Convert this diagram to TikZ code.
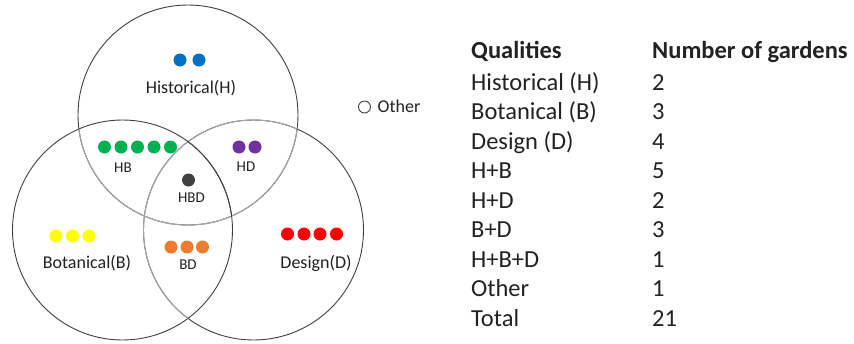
\documentclass[tikz,border=0pt]{standalone}
\usepackage{fontspec}
\setmainfont{Carlito}
\definecolor{cline}{HTML}{404040}
\definecolor{cfaint}{HTML}{A6A6A6}
\definecolor{ctext}{HTML}{222222}
\definecolor{cblue}{HTML}{0070C0}
\definecolor{cgreen}{HTML}{00B050}
\definecolor{cpurple}{HTML}{7030A0}
\definecolor{cblack}{HTML}{404040}
\definecolor{cyellow}{HTML}{FFFF00}
\definecolor{corange}{HTML}{ED7D31}
\definecolor{cred}{HTML}{FF0000}
\tikzset{
  dot/.style={circle, minimum size=13pt, inner sep=0pt, draw=none},
  bigcircle/.style={draw=cline, line width=0.9pt},
  faintcircle/.style={draw=cfaint, line width=0.9pt},
  biglabel/.style={anchor=base, inner sep=0pt, text=ctext, font=\fontsize{18pt}{20pt}\selectfont},
  smalllabel/.style={anchor=base, inner sep=0pt, text=ctext, font=\fontsize{15pt}{17pt}\selectfont},
  tabtext/.style={anchor=base west, inner sep=0pt, text=ctext, font=\fontsize{24.5pt}{27pt}\selectfont},
  tabhead/.style={tabtext, font=\fontsize{24.5pt}{27pt}\selectfont\bfseries},
}
\begin{document}
\begin{tikzpicture}[x=1pt, y=-1pt]
\useasboundingbox (0,0) rectangle (854,343);
% circles
\coordinate (cH) at (188,115);
\coordinate (cB) at (122.5,230);
\coordinate (cD) at (253.5,230);
\draw[bigcircle] (cH) circle (110);
\draw[bigcircle] (cD) circle (110);
\draw[bigcircle] (cB) circle (110);
% lighter arcs where H and D run inside other circles
\begin{scope}
  \clip (cD) circle (110);
  \draw[faintcircle] (cH) circle (110);
\end{scope}
\begin{scope}
  \clip (cB) circle (110);
  \draw[faintcircle] (cH) circle (110);
  \draw[faintcircle] (cD) circle (110);
\end{scope}
\begin{scope}
  \clip (cH) circle (110);
  \draw[faintcircle] (cD) circle (110);
\end{scope}
\begin{scope}
  \clip (cH) circle (111);
  \clip (cD) circle (111);
  \draw[bigcircle] (cB) circle (110);
\end{scope}
% Historical
\node[dot, fill=cblue] (h1) at (180,60) {};
\node[dot, fill=cblue] (h2) at (199,60) {};
\node[biglabel] (lh) at (191,93.5) {Historical(H)};
% Other
\node[circle, draw=cline, line width=0.9pt, minimum size=12pt, inner sep=0pt] (o1) at (364.5,107) {};
\node[anchor=base west, inner sep=0pt, text=ctext, font=\fontsize{18pt}{20pt}\selectfont] (lo) at (377.5,112.5) {Other};
% HB
\node[dot, fill=cgreen] (hb1) at (104.5,147) {};
\node[dot, fill=cgreen] (hb2) at (121,147) {};
\node[dot, fill=cgreen] (hb3) at (137.5,147) {};
\node[dot, fill=cgreen] (hb4) at (154,147) {};
\node[dot, fill=cgreen] (hb5) at (170.5,147) {};
\node[smalllabel] (lhb) at (123,172) {HB};
% HD
\node[dot, fill=cpurple] (hd1) at (239,147) {};
\node[dot, fill=cpurple] (hd2) at (255,147) {};
\node[smalllabel] (lhd) at (246,171.5) {HD};
% HBD
\node[dot, fill=cblack] (hbd1) at (188.5,180) {};
\node[smalllabel] (lhbd) at (191.5,202.5) {HBD};
% Botanical
\node[dot, fill=cyellow] (b1) at (56,236) {};
\node[dot, fill=cyellow] (b2) at (72.5,236) {};
\node[dot, fill=cyellow] (b3) at (89,236) {};
\node[biglabel] (lb) at (87,268.5) {Botanical(B)};
% BD
\node[dot, fill=corange] (bd1) at (171,247) {};
\node[dot, fill=corange] (bd2) at (187,247) {};
\node[dot, fill=corange] (bd3) at (202.5,247) {};
\node[smalllabel] (lbd) at (188,269) {BD};
% Design
\node[dot, fill=cred] (d1) at (287.5,234) {};
\node[dot, fill=cred] (d2) at (304,234) {};
\node[dot, fill=cred] (d3) at (320,234) {};
\node[dot, fill=cred] (d4) at (336.5,234) {};
\node[biglabel] (ld) at (316,268.5) {Design(D)};
% table
\node[tabhead] (t0a) at (471,58) {Qualities};
\node[tabhead] (t0b) at (652,58) {Number of gardens};
\node[tabtext] (t1a) at (471,90) {Historical (H)};
\node[tabtext] (t1b) at (652,90) {2};
\node[tabtext] (t2a) at (471,119.5) {Botanical (B)};
\node[tabtext] (t2b) at (652,119.5) {3};
\node[tabtext] (t3a) at (471,149) {Design (D)};
\node[tabtext] (t3b) at (652,149) {4};
\node[tabtext] (t4a) at (471,178.5) {H+B};
\node[tabtext] (t4b) at (652,178.5) {5};
\node[tabtext] (t5a) at (471,208) {H+D};
\node[tabtext] (t5b) at (652,208) {2};
\node[tabtext] (t6a) at (471,237.5) {B+D};
\node[tabtext] (t6b) at (652,237.5) {3};
\node[tabtext] (t7a) at (471,267) {H+B+D};
\node[tabtext] (t7b) at (652,267) {1};
\node[tabtext] (t8a) at (471,296.5) {Other};
\node[tabtext] (t8b) at (652,296.5) {1};
\node[tabtext] (t9a) at (471,326) {Total};
\node[tabtext] (t9b) at (652,326) {21};
\end{tikzpicture}
\end{document}
